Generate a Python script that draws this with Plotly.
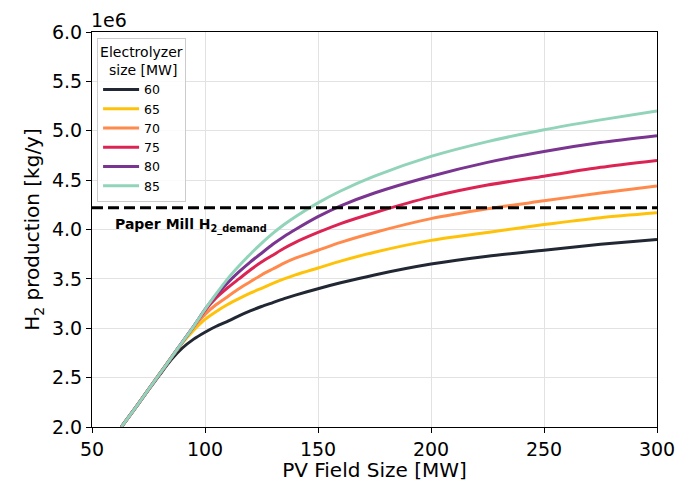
import plotly.graph_objects as go

# PV field size [MW]
pv_size = [63, 70, 80, 85, 90, 95, 100, 105, 110, 115, 120, 125, 130, 135, 140,
           150, 160, 175, 200, 225, 250, 275, 300]

# H2 production [1e6 kg/y] per electrolyzer size [MW]
el_sizes = ["60", "65", "70", "75", "80", "85"]
prod_60 = [2.00, 2.22, 2.53, 2.68, 2.80, 2.89, 2.96, 3.02, 3.07, 3.125, 3.175, 3.22, 3.26, 3.30, 3.335,
           3.40, 3.46, 3.54, 3.65, 3.73, 3.79, 3.85, 3.90]
prod_65 = [2.00, 2.22, 2.54, 2.70, 2.85, 2.98, 3.09, 3.17, 3.24, 3.30, 3.355, 3.405, 3.455, 3.50, 3.54,
           3.61, 3.68, 3.77, 3.89, 3.97, 4.05, 4.12, 4.17]
prod_70 = [2.00, 2.22, 2.54, 2.70, 2.86, 3.01, 3.14, 3.24, 3.32, 3.40, 3.47, 3.54, 3.60, 3.66, 3.71,
           3.79, 3.87, 3.97, 4.11, 4.21, 4.29, 4.37, 4.44]
prod_75 = [2.00, 2.22, 2.54, 2.70, 2.86, 3.02, 3.18, 3.31, 3.41, 3.50, 3.59, 3.67, 3.74, 3.81, 3.87,
           3.97, 4.06, 4.17, 4.33, 4.45, 4.54, 4.63, 4.70]
prod_80 = [2.00, 2.22, 2.54, 2.70, 2.86, 3.02, 3.19, 3.34, 3.46, 3.57, 3.67, 3.76, 3.85, 3.93, 4.00,
           4.13, 4.24, 4.37, 4.54, 4.68, 4.79, 4.88, 4.95]
prod_85 = [2.00, 2.22, 2.54, 2.70, 2.86, 3.02, 3.19, 3.35, 3.50, 3.63, 3.75, 3.86, 3.96, 4.05, 4.13,
           4.27, 4.39, 4.54, 4.74, 4.89, 5.01, 5.11, 5.20]
demand = 4.22
demand_x = [50, 300]

series = [prod_60, prod_65, prod_70, prod_75, prod_80, prod_85]
colors = ["#222833", "#FFC20A", "#FF8A4C", "#DC2454", "#7A3590", "#92D4BA"]

FONT = "DejaVu Sans"
fig = go.Figure()
for name, vals, col in zip(el_sizes, series, colors):
    fig.add_trace(go.Scatter(
        x=pv_size, y=vals, name=name, mode="lines",
        line=dict(color=col, width=3, shape="spline", smoothing=0.7),
    ))

fig.add_trace(go.Scatter(
    x=demand_x, y=[demand, demand], mode="lines", showlegend=False,
    line=dict(color="black", width=3, dash="11px,5px"),
))

fig.add_annotation(
    x=59.3, y=4.04, xref="x", yref="y", xanchor="left", yanchor="middle",
    text="<b>Paper Mill H<sub>2_demand</sub></b>", showarrow=False,
    font=dict(family=FONT, size=14, color="black"),
)
fig.add_annotation(
    x=0, y=1, xref="paper", yref="paper", xanchor="left", yanchor="bottom",
    text="1e6", showarrow=False, font=dict(family=FONT, size=19, color="black"),
    xshift=-3, yshift=-1,
)

axis_common = dict(
    showline=True, linecolor="black", linewidth=1.2, mirror=True,
    ticks="outside", ticklen=5, tickcolor="black", tickwidth=1.2,
    showgrid=True, gridcolor="#e2e2e2", gridwidth=1, zeroline=False,
    tickfont=dict(family=FONT, size=19, color="black"), automargin=False,
)

fig.update_layout(
    width=674, height=474,
    margin=dict(l=84, r=25, t=24, b=55),
    plot_bgcolor="white", paper_bgcolor="white",
    font=dict(family=FONT, color="black"),
    xaxis=dict(range=[50, 300], tickvals=[50, 100, 150, 200, 250, 300],
               title=dict(text="PV Field Size [MW]", font=dict(family=FONT, size=20), standoff=4),
               **axis_common),
    yaxis=dict(range=[2.0, 6.0], tickvals=[2.0, 2.5, 3.0, 3.5, 4.0, 4.5, 5.0, 5.5, 6.0],
               tickformat=".1f",
               title=dict(text="H<sub>2</sub> production [kg/y]", font=dict(family=FONT, size=20), standoff=6),
               **axis_common),
    legend=dict(
        x=0.009, y=0.986, xanchor="left", yanchor="top",
        bgcolor="rgba(255,255,255,0.85)", bordercolor="#cccccc", borderwidth=1,
        font=dict(family=FONT, size=12.5, color="black"),
        title=dict(text="Electrolyzer<br>\u00a0\u00a0size [MW]", side="top",
                   font=dict(family=FONT, size=14, color="black")),
        itemwidth=36, tracegroupgap=0,
    ),
)

fig.write_html("out.html")
